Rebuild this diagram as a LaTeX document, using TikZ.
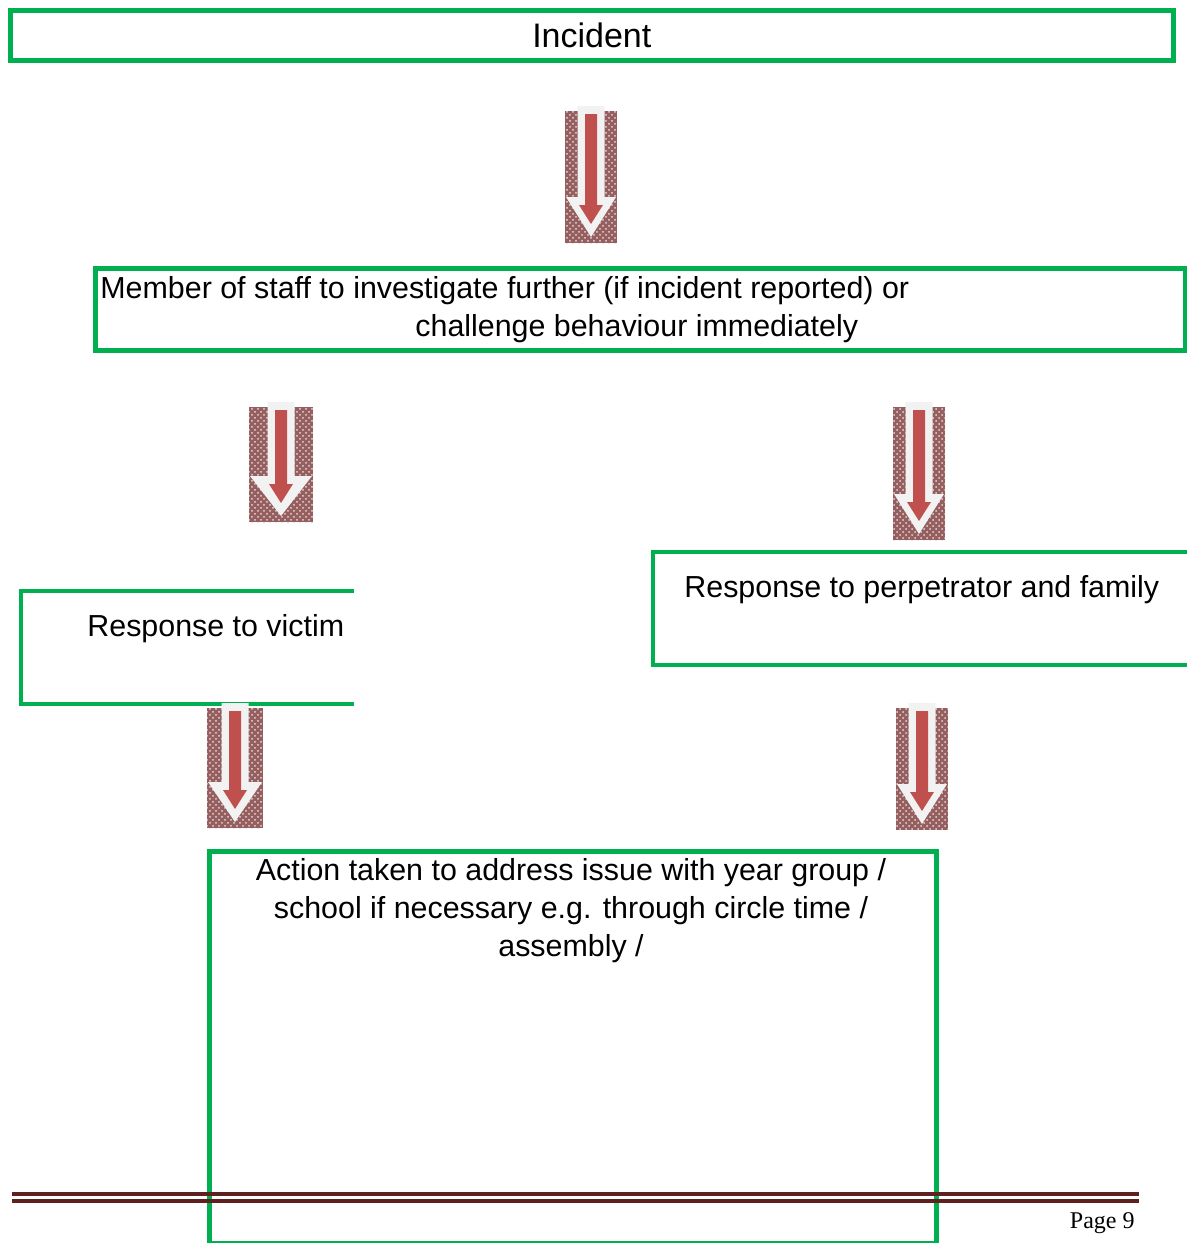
\documentclass[tikz,border=0pt]{standalone}
\usepackage{fontspec}
\setmainfont{Liberation Sans}
\newfontfamily\footfont{Liberation Serif}
\usetikzlibrary{patterns}
\definecolor{boxgreen}{RGB}{0,176,80}
\definecolor{arrowred}{RGB}{192,80,77}
\definecolor{arrowrim}{RGB}{242,242,242}
\definecolor{arrowbg}{RGB}{150,95,95}
\definecolor{footred}{RGB}{95,33,32}
% block arrow: centre x, top, bottom, half width
\newcommand{\blockarrow}[4]{%
	\fill[arrowbg] (#1-#4,#2) rectangle (#1+#4,#3);
	\fill[pattern=crosshatch dots, pattern color=white!75!arrowbg] (#1-#4,#2) rectangle (#1+#4,#3);
	\fill[arrowrim] (#1-13.5,#2-5) -- (#1+13.5,#2-5) -- (#1+13.5,#3-46) -- (#1+#4-1,#3-46)
		-- (#1,#3-6) -- (#1-#4+1,#3-46) -- (#1-13.5,#3-46) -- cycle;
	\fill[arrowred] (#1-6,#2+3) -- (#1+6,#2+3) -- (#1+6,#3-38) -- (#1+12,#3-38)
		-- (#1,#3-19) -- (#1-12,#3-38) -- (#1-6,#3-38) -- cycle;
}
\begin{document}
\begin{tikzpicture}[
				x=0.5pt, y=-0.5pt,
				box/.style={draw=boxgreen, line width=2.3pt, inner sep=0pt},
				txt/.style={font=\fontsize{15.2}{19}\selectfont, inner sep=0pt},
				open/.style={draw=boxgreen, line width=2.3pt}
				]
			\useasboundingbox (0,0) rectangle (1187,1243);
			% boxes
			\node [box, minimum width=1163*0.5pt, minimum height=50*0.5pt, anchor=north west] (incident) at (8,8) {};
			\node [txt, font=\fontsize{17}{20}\selectfont] (incidenttxt) at (incident.center) {Incident};
			\node [box, minimum width=1090*0.5pt, minimum height=82*0.5pt, anchor=north west] (staff) at (93,266) {};
			\node [txt, anchor=base west] (staffa) at (100,298) {Member of staff to investigate further (if incident reported) or};
			\node [txt, anchor=base west] (staffb) at (415,336) {challenge behaviour immediately};
			\draw [open] (354,591) -- (21,591) -- (21,704) -- (354,704);
			\node [txt, anchor=base west] (victim) at (87,636) {Response to victim};
			\draw [open] (1190,552) -- (653,552) -- (653,665) -- (1190,665);
			\node [txt, anchor=base west] (perp) at (684,597) {Response to perpetrator and family};
			\node [box, minimum width=727*0.5pt, minimum height=392*0.5pt, anchor=north west] (action) at (207,849) {};
			\node [txt, align=center, anchor=base] (actiontxt) at (571,956)
				{Action taken to address issue with year group /\\school if necessary e.g. through circle time /\\assembly /};
			% arrows
			\blockarrow{591}{111}{243}{26}
			\blockarrow{281}{407}{522}{32}
			\blockarrow{919}{407}{540}{26}
			\blockarrow{235}{708}{828}{28}
			\blockarrow{922}{708}{830}{26}
			% footer
			\draw [footred, line width=2.2pt] (12,1194) -- (1139,1194);
			\draw [footred, line width=2.2pt] (12,1201) -- (1139,1201);
			\node [inner sep=0pt, anchor=base east, font=\footfont\fontsize{12}{14}\selectfont] (page) at (1135,1228) {Page 9};
			\end{tikzpicture}
\end{document}
